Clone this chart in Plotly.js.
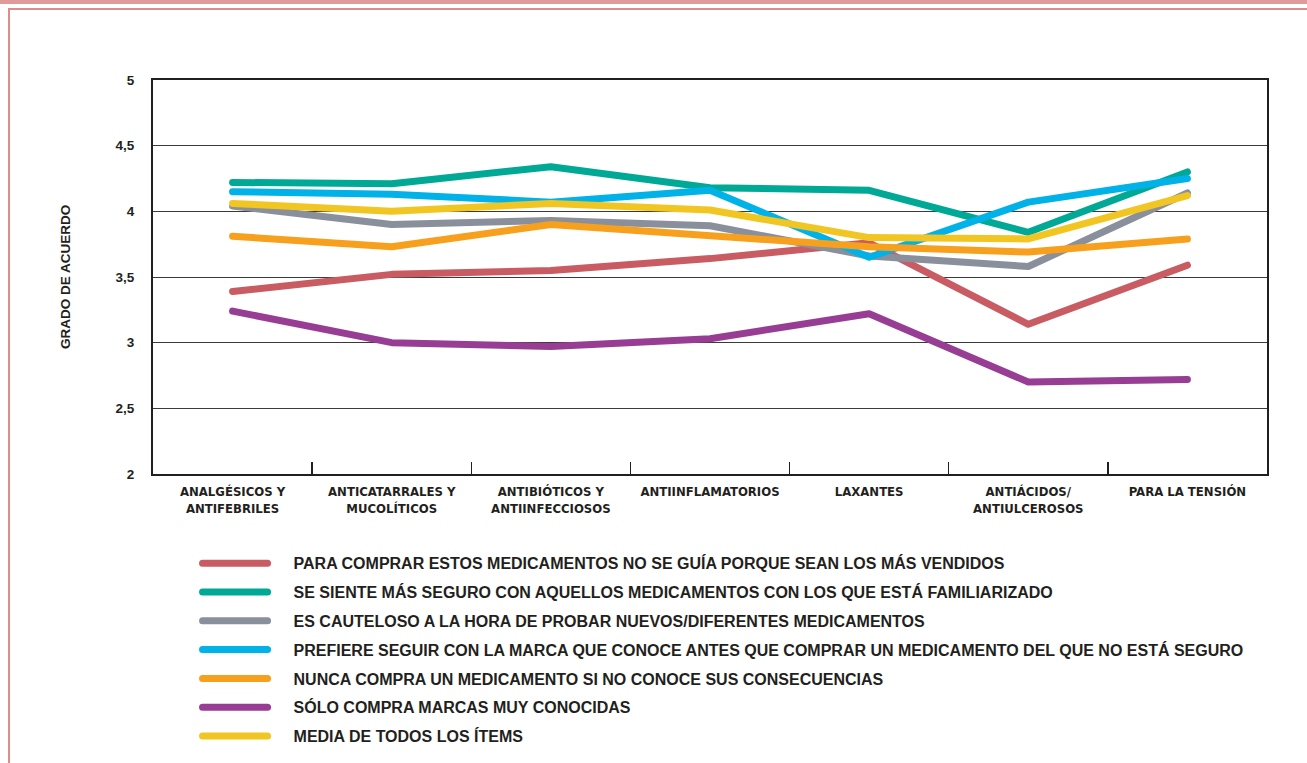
<!DOCTYPE html>
<html>
<head>
<meta charset="utf-8">
<script src="https://cdn.plot.ly/plotly-3.0.1.min.js"></script>
<style>
  html, body { margin:0; padding:0; background:#fff; }
  #wrap { position:relative; width:1307px; height:763px; overflow:hidden; }
  #band { position:absolute; left:0; top:0; width:1307px; height:4px; background:#e09a9a; }
  #frame { position:absolute; left:8px; top:8px; width:1320px; height:800px; border-left:2px solid #e08a8a; border-top:2px solid #e08a8a; box-sizing:border-box; }
  #chart { position:absolute; left:0; top:0; width:1307px; height:763px; }
  .scatterlayer .js-line, .legend .legendlines path { stroke-linecap: round; stroke-linejoin: round; }
</style>
</head>
<body>
<div id="wrap">
  <div id="band"></div>
  <div id="frame"></div>
  <div id="chart"></div>
</div>
<script>
const categories = [
  "ANALGÉSICOS Y<br>ANTIFEBRILES",
  "ANTICATARRALES Y<br>MUCOLÍTICOS",
  "ANTIBIÓTICOS Y<br>ANTIINFECCIOSOS",
  "ANTIINFLAMATORIOS",
  "LAXANTES",
  "ANTIÁCIDOS/<br>ANTIULCEROSOS",
  "PARA LA TENSIÓN"
];
const seriesNames = [
  "PARA COMPRAR ESTOS MEDICAMENTOS NO SE GUÍA PORQUE SEAN LOS MÁS VENDIDOS",
  "SE SIENTE MÁS SEGURO CON AQUELLOS MEDICAMENTOS CON LOS QUE ESTÁ FAMILIARIZADO",
  "ES CAUTELOSO A LA HORA DE PROBAR NUEVOS/DIFERENTES MEDICAMENTOS",
  "PREFIERE SEGUIR CON LA MARCA QUE CONOCE ANTES QUE COMPRAR UN MEDICAMENTO DEL QUE NO ESTÁ SEGURO",
  "NUNCA COMPRA UN MEDICAMENTO SI NO CONOCE SUS CONSECUENCIAS",
  "SÓLO COMPRA MARCAS MUY CONOCIDAS",
  "MEDIA DE TODOS LOS ÍTEMS"
];
const noSeGuiaVendidos = [3.39, 3.52, 3.55, 3.64, 3.76, 3.14, 3.59];
const masSeguroFamiliar = [4.22, 4.21, 4.34, 4.18, 4.16, 3.84, 4.30];
const cautelosoNuevos   = [4.04, 3.90, 3.93, 3.89, 3.66, 3.58, 4.14];
const prefiereMarca     = [4.15, 4.13, 4.07, 4.16, 3.65, 4.07, 4.25];
const nuncaSinConocer   = [3.81, 3.73, 3.90, 3.82, 3.73, 3.69, 3.79];
const soloMarcasConoc   = [3.24, 3.00, 2.97, 3.03, 3.22, 2.70, 2.72];
const mediaItems        = [4.06, 4.00, 4.06, 4.01, 3.80, 3.79, 4.12];
const yTickVals = [2, 2.5, 3, 3.5, 4, 4.5, 5];
const yTickText = ["2", "2,5", "3", "3,5", "4", "4,5", "5"];

const allSeries = [noSeGuiaVendidos, masSeguroFamiliar, cautelosoNuevos, prefiereMarca, nuncaSinConocer, soloMarcasConoc, mediaItems];
const colors = ["#c95b63", "#00a995", "#8a8f9c", "#00b2e8", "#f7a01d", "#973d93", "#f2c622"];

const FONT = "Liberation Sans Narrow, Arial Narrow, DejaVu Sans Condensed, Arial, sans-serif";
const FONT2 = "Liberation Sans, Arial, Helvetica, sans-serif";

const traces = allSeries.map((vals, i) => ({
  type: "scatter",
  mode: "lines",
  x: categories,
  y: vals,
  name: seriesNames[i],
  legendgroup: "g" + i,
  line: { color: colors[i], width: 7 },
  hoverinfo: "skip"
}));

const layout = {
  width: 1307, height: 763,
  paper_bgcolor: "rgba(0,0,0,0)",
  plot_bgcolor: "#fff",
  margin: { l: 153, r: 40, t: 80, b: 289 },
  separators: ",.",
  showlegend: true,
  legend: {
    xref: "paper", yref: "container",
    x: 0.04, y: 0.284, xanchor: "left", yanchor: "top",
    orientation: "v",
    font: { family: FONT2, size: 16, color: "#231f20", weight: "bold" },
    itemwidth: 86,
    tracegroupgap: 5,
    bgcolor: "rgba(0,0,0,0)"
  },
  xaxis: {
    type: "category",
    range: [-0.5, 6.5],
    showline: true, mirror: true, linecolor: "#231f20", linewidth: 2,
    ticks: "inside", ticklen: 12, tickcolor: "#231f20", tickwidth: 1.5,
    tickson: "boundaries",
    showgrid: false,
    tickfont: { family: FONT, size: 13, color: "#231f20", weight: "bold" },
    ticklabelstandoff: 4
  },
  yaxis: {
    range: [2, 5],
    tickvals: yTickVals, ticktext: yTickText,
    showline: true, mirror: true, linecolor: "#231f20", linewidth: 2,
    showgrid: true, gridcolor: "#3a3a3a", gridwidth: 1,
    zeroline: false,
    ticks: "",
    tickfont: { family: FONT2, size: 13.5, color: "#231f20", weight: "bold" },
    ticklabelstandoff: 14,
    title: { text: "GRADO DE ACUERDO", standoff: 42,
             font: { family: FONT2, size: 13.5, color: "#231f20", weight: "bold" } }
  }
};

Plotly.newPlot("chart", traces, layout, { displayModeBar: false, staticPlot: true }).then(() => {
  document.querySelectorAll(".legend .legendlines path").forEach(p => {
    p.setAttribute("d", "M5,0h65");
  });
});
</script>
</body>
</html>
